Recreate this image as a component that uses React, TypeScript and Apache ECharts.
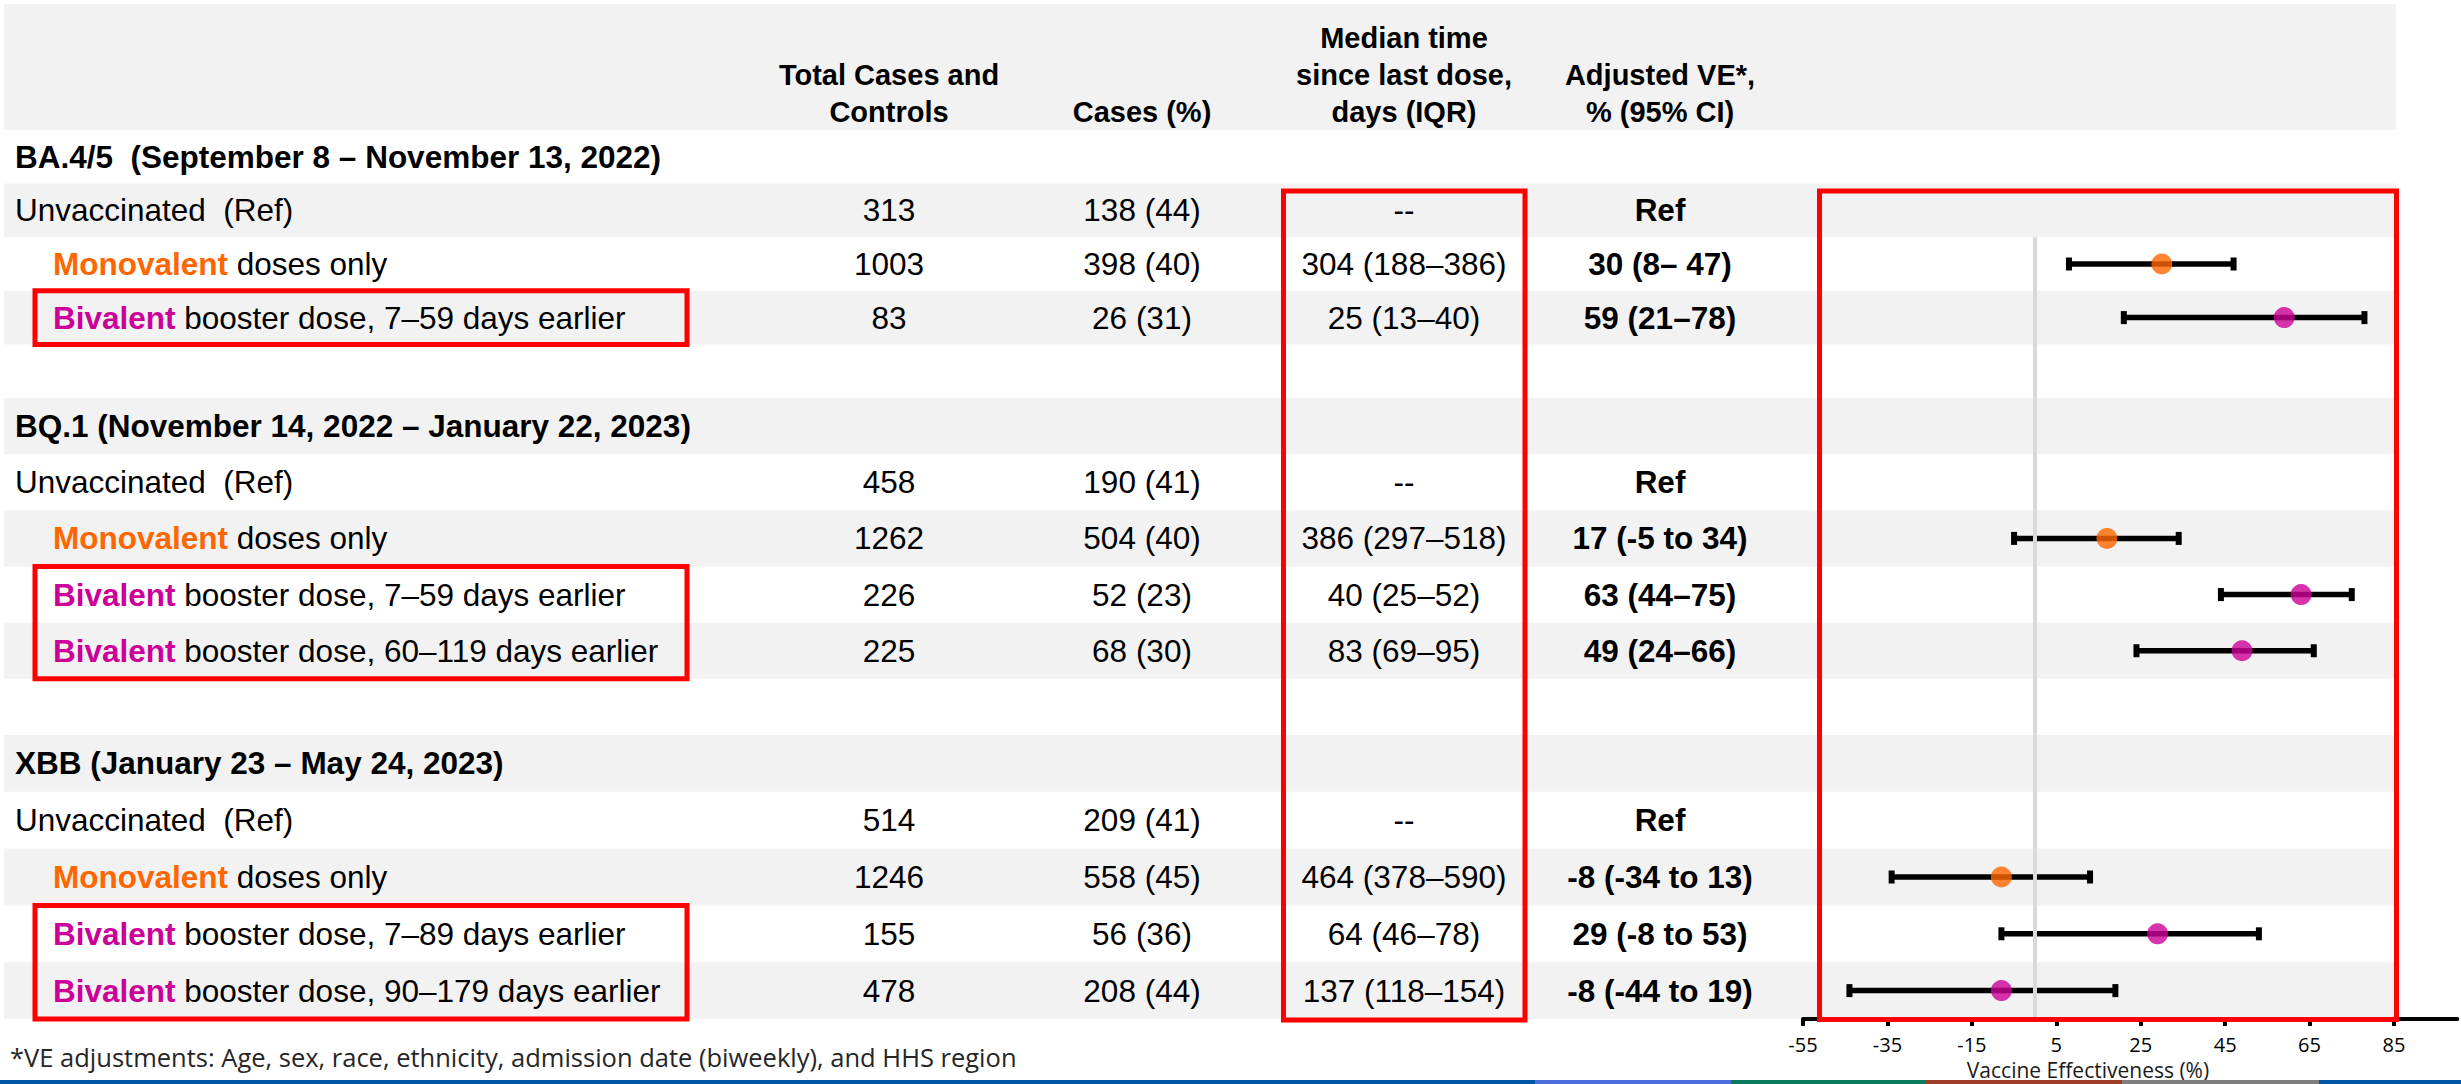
import React, { useEffect, useRef } from "react";
import * as echarts from "echarts";

// ---------------- data ----------------
const columnHeaders: string[][] = [
  ["Total Cases and", "Controls"],
  ["Cases (%)"],
  ["Median time", "since last dose,", "days (IQR)"],
  ["Adjusted VE*,", "% (95% CI)"],
];
const variants = [
  "BA.4/5  (September 8 – November 13, 2022)",
  "BQ.1 (November 14, 2022 – January 22, 2023)",
  "XBB (January 23 – May 24, 2023)",
];
const rowVariant = [0, 0, 0, 1, 1, 1, 1, 2, 2, 2, 2];
const rowProduct = ["", "Monovalent", "Bivalent", "", "Monovalent", "Bivalent", "Bivalent", "", "Monovalent", "Bivalent", "Bivalent"];
const rowDetail = [
  "Unvaccinated  (Ref)",
  " doses only",
  " booster dose, 7–59 days earlier",
  "Unvaccinated  (Ref)",
  " doses only",
  " booster dose, 7–59 days earlier",
  " booster dose, 60–119 days earlier",
  "Unvaccinated  (Ref)",
  " doses only",
  " booster dose, 7–89 days earlier",
  " booster dose, 90–179 days earlier",
];
const totalCasesControls = [313, 1003, 83, 458, 1262, 226, 225, 514, 1246, 155, 478];
const casesPct = ["138 (44)", "398 (40)", "26 (31)", "190 (41)", "504 (40)", "52 (23)", "68 (30)", "209 (41)", "558 (45)", "56 (36)", "208 (44)"];
const medianDays = ["--", "304 (188–386)", "25 (13–40)", "--", "386 (297–518)", "40 (25–52)", "83 (69–95)", "--", "464 (378–590)", "64 (46–78)", "137 (118–154)"];
const veLabel = ["Ref", "30 (8– 47)", "59 (21–78)", "Ref", "17 (-5 to 34)", "63 (44–75)", "49 (24–66)", "Ref", "-8 (-34 to 13)", "29 (-8 to 53)", "-8 (-44 to 19)"];
const vePoint: (number | null)[] = [null, 30, 59, null, 17, 63, 49, null, -8, 29, -8];
const veLow: (number | null)[] = [null, 8, 21, null, -5, 44, 24, null, -34, -8, -44];
const veHigh: (number | null)[] = [null, 47, 78, null, 34, 75, 66, null, 13, 53, 19];
const xTickValues = [-55, -35, -15, 5, 25, 45, 65, 85];
const footnote = "*VE adjustments: Age, sex, race, ethnicity, admission date (biweekly), and HHS region";
const axisTitle = "Vaccine Effectiveness (%)";

// ---------------- layout / style ----------------
const W = 2461;
const H = 1084;
const ARIAL = '"Liberation Sans", Arial, Helvetica, sans-serif';
const CAL = '"Open Sans", Lato, sans-serif';
const GRAY = "#F2F2F2";
const RED = "#FF0000";
const productColor: Record<string, string> = { Monovalent: "#FF6600", Bivalent: "#CC0099" };
const blockTop = [130, 398, 735];
const blockBottom = [398, 735, 1019];
const blockSlots = [5, 6, 5];
const gridFirstSlot = [2, 0, 0];
const colX = [889, 1142, 1404, 1660];
const plotLeft = 1803;
const plotRight = 2457.3;
const BODY = 31.5;

function slotH(k: number) {
  return (blockBottom[k] - blockTop[k]) / blockSlots[k];
}
function slotTop(k: number, s: number) {
  return blockTop[k] + s * slotH(k);
}

function text(x: number, y: number, t: string, opts: any = {}) {
  const align = opts.align || "left";
  return {
    type: "text",
    x,
    y,
    z: opts.z ?? 50,
    style: {
      text: t,
      fill: opts.fill || "#000",
      fontSize: opts.fontSize || BODY,
      fontFamily: opts.fontFamily || ARIAL,
      fontWeight: opts.fontWeight || "normal",
      align,
      textAlign: align,
      verticalAlign: "middle",
      textVerticalAlign: "middle",
      rich: opts.rich,
    },
  };
}

export default function App() {
  const ref = useRef<HTMLDivElement>(null);

  useEffect(() => {
    const chart = echarts.init(ref.current!, null, { renderer: "svg" });

    const variantRows: number[][] = [[], [], []];
    rowVariant.forEach((v, i) => variantRows[v].push(i));
    const slotOf = (i: number) => 1 + variantRows[rowVariant[i]].indexOf(i);

    const graphics: any[] = [];
    // header band
    graphics.push({ type: "rect", z: -10, shape: { x: 4, y: 4, width: 2392, height: 126 }, style: { fill: GRAY } });
    // row stripes
    let g = 0;
    for (let k = 0; k < 3; k++) {
      for (let s = 0; s < blockSlots[k]; s++) {
        if (g % 2 === 1) {
          graphics.push({
            type: "rect",
            z: -10,
            shape: { x: 4, y: slotTop(k, s), width: 2392, height: slotH(k) },
            style: { fill: GRAY },
          });
        }
        g++;
      }
    }
    // column headers
    const headerLineY = [38, 75, 112];
    columnHeaders.forEach((lines, c) => {
      const start = 3 - lines.length;
      lines.forEach((ln, j) => {
        graphics.push(text(colX[c], headerLineY[start + j], ln, { align: "center", fontWeight: "bold", fontSize: 29 }));
      });
    });
    // variant headers
    variants.forEach((v, k) => {
      graphics.push(text(15, slotTop(k, 0) + slotH(k) / 2, v, { fontWeight: "bold" }));
    });
    // data rows
    rowVariant.forEach((k, i) => {
      const s = slotOf(i);
      const y = slotTop(k, s) + slotH(k) / 2;
      const p = rowProduct[i];
      if (p) {
        graphics.push(
          text(53, y, `{p|${p}}${rowDetail[i]}`, {
            rich: {
              p: { fill: productColor[p], fontWeight: "bold", fontSize: BODY, fontFamily: ARIAL },
            },
          })
        );
      } else {
        graphics.push(text(15, y, rowDetail[i]));
      }
      graphics.push(text(colX[0], y, String(totalCasesControls[i]), { align: "center" }));
      graphics.push(text(colX[1], y, casesPct[i], { align: "center" }));
      graphics.push(text(colX[2], y, medianDays[i], { align: "center" }));
      graphics.push(text(colX[3], y, veLabel[i], { align: "center", fontWeight: "bold" }));
    });
    // red highlight boxes around bivalent rows
    for (let k = 0; k < 3; k++) {
      const rows = variantRows[k].filter((i) => rowProduct[i] === "Bivalent");
      if (!rows.length) continue;
      const top = slotTop(k, slotOf(rows[0]));
      const bottom = slotTop(k, slotOf(rows[rows.length - 1]) + 1);
      graphics.push({
        type: "rect",
        z: 100,
        shape: { x: 35, y: top, width: 652, height: bottom - top },
        style: { fill: "none", stroke: RED, lineWidth: 5 },
      });
    }
    // median column box and forest box
    graphics.push({
      type: "rect",
      z: 100,
      shape: { x: 1283.5, y: 191, width: 241.5, height: 829 },
      style: { fill: "none", stroke: RED, lineWidth: 5 },
    });
    graphics.push({
      type: "rect",
      z: 100,
      shape: { x: 1819.5, y: 191, width: 577, height: 828.5 },
      style: { fill: "none", stroke: RED, lineWidth: 5 },
    });
    // footnote and axis title
    graphics.push(text(10, 1057, footnote, { fontFamily: CAL, fontSize: 25.5, fill: "#262626" }));
    graphics.push(text(2088, 1069.5, axisTitle, { fontFamily: CAL, fontSize: 21, align: "center", fill: "#1a1a1a" }));
    // bottom decorative strip
    const strip: [number, number, string][] = [
      [0, 1535, "#0057A6"],
      [1535, 1731, "#4C6FDC"],
      [1731, 1925, "#0B7B5C"],
      [1925, 2122, "#9E3D26"],
      [2122, 2319, "#7F7F7F"],
      [2319, 2461, "#0057A6"],
    ];
    strip.forEach(([a, b, c]) =>
      graphics.push({ type: "rect", z: 120, shape: { x: a, y: 1080, width: b - a, height: 4 }, style: { fill: c } })
    );

    // forest plot grids
    const grids: any[] = [];
    const xAxes: any[] = [];
    const yAxes: any[] = [];
    const series: any[] = [];
    for (let k = 0; k < 3; k++) {
      const first = gridFirstSlot[k];
      const n = blockSlots[k] - first;
      const top = slotTop(k, first);
      grids.push({ left: plotLeft, width: plotRight - plotLeft, top, height: n * slotH(k) });
      const last = k === 2;
      xAxes.push({
        gridIndex: k,
        type: "value",
        min: -55,
        max: 100,
        show: last,
        splitLine: { show: false },
        axisLine: { show: last, onZero: false, lineStyle: { color: "#000", width: 4 } },
        axisTick: { show: last, length: 7, lineStyle: { color: "#000", width: 4 }, customValues: xTickValues },
        axisLabel: {
          show: last,
          customValues: xTickValues,
          fontFamily: CAL,
          fontSize: 20,
          color: "#000",
          margin: 15,
        },
      });
      yAxes.push({
        gridIndex: k,
        type: "category",
        inverse: true,
        show: false,
        data: Array.from({ length: n }, (_, j) => `slot${j}`),
      });
      const rows = variantRows[k].filter((i) => vePoint[i] !== null);
      series.push({
        type: "line",
        xAxisIndex: k,
        yAxisIndex: k,
        z: 1,
        data: [],
        silent: true,
        markLine: {
          silent: true,
          symbol: ["none", "none"],
          label: { show: false },
          lineStyle: { color: "#D9D9D9", width: 4, type: "solid" },
          data: [{ xAxis: 0 }],
        },
      });
      series.push({
        type: "custom",
        xAxisIndex: k,
        yAxisIndex: k,
        z: 3,
        silent: true,
        encode: { x: [0, 1], y: 2 },
        data: rows.map((i) => [veLow[i], veHigh[i], slotOf(i) - first]),
        renderItem: (params: any, api: any) => {
          const p1 = api.coord([api.value(0), api.value(2)]);
          const p2 = api.coord([api.value(1), api.value(2)]);
          return {
            type: "group",
            children: [
              { type: "line", shape: { x1: p1[0], y1: p1[1], x2: p2[0], y2: p2[1] }, style: { stroke: "#000", lineWidth: 5.5 } },
              { type: "rect", shape: { x: p1[0] - 3, y: p1[1] - 6.5, width: 6, height: 13 }, style: { fill: "#000" } },
              { type: "rect", shape: { x: p2[0] - 3, y: p2[1] - 6.5, width: 6, height: 13 }, style: { fill: "#000" } },
            ],
          };
        },
      });
      series.push({
        type: "scatter",
        xAxisIndex: k,
        yAxisIndex: k,
        z: 4,
        silent: true,
        symbol: "circle",
        symbolSize: 21,
        data: rows.map((i) => ({
          value: [vePoint[i], slotOf(i) - first],
          itemStyle: { color: productColor[rowProduct[i]] },
        })),
      });
    }

    chart.setOption({
      animation: false,
      backgroundColor: "#fff",
      grid: grids,
      xAxis: xAxes,
      yAxis: yAxes,
      series,
      graphic: { elements: graphics },
    });
    return () => chart.dispose();
  }, []);

  return (
    <div
      ref={ref}
      style={{ position: "fixed", left: 0, top: 0, width: W, height: H, background: "#fff" }}
    />
  );
}
